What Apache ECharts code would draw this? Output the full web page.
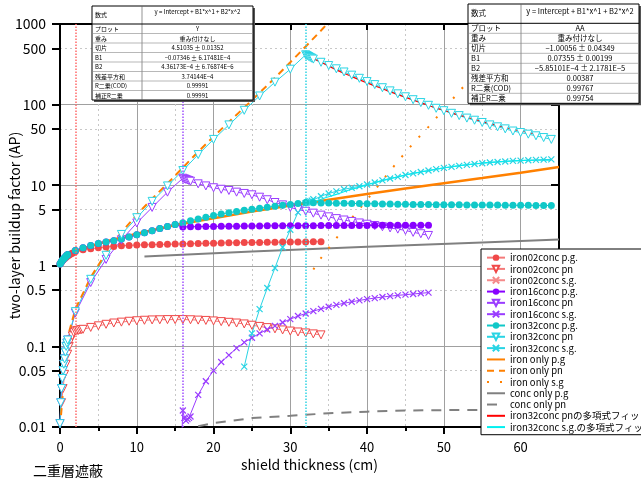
<!DOCTYPE html>
<html><head><meta charset="utf-8">
<script src="https://cdn.jsdelivr.net/npm/echarts@6/dist/echarts.min.js"></script>
<style>html,body{margin:0;padding:0;background:#fff}#c{width:641px;height:478px}</style>
</head><body><div id="c"></div>
<script>
// ---------- axis ticks ----------
const yTickValues = [0.01, 0.05, 0.1, 0.5, 1, 5, 10, 50, 100, 500, 1000];
const xTickValues = [0, 10, 20, 30, 40, 50, 60];
const xLabelValues = [0, 10, 20, 30, 40, 50, 60];
const interfaceX = [2, 16, 32];

// ---------- iron 2cm + concrete ----------
const iron02_pg_x = [0,0.2,0.4,0.6,0.8,1,1.2,1.4,1.6,1.8,2,3,4,5,6,7,8,9,10,11,12,13,14,15,16,17,18,19,20,21,22,23,24,25,26,27,28,29,30,31,32,33,34];
const iron02_pg_y = [1.05,1.12,1.18,1.23,1.28,1.32,1.36,1.4,1.43,1.46,1.5,1.58,1.63,1.67,1.71,1.74,1.77,1.79,1.81,1.82,1.83,1.84,1.85,1.86,1.87,1.88,1.89,1.9,1.91,1.92,1.93,1.93,1.94,1.95,1.95,1.96,1.96,1.97,1.97,1.98,1.98,1.99,1.99];
const iron02_pn_x = [0,0.2,0.4,0.6,0.8,1,1.2,1.4,1.6,1.8,2,2.2,2.4,2.6,2.8,3,4,5,6,7,8,9,10,11,12,13,14,15,16,17,18,19,20,21,22,23,24,25,26,27,28,29,30,31,32,33,34];
const iron02_pn_y = [0.011,0.02,0.03,0.045,0.06,0.08,0.1,0.12,0.135,0.148,0.155,0.157,0.158,0.16,0.162,0.163,0.172,0.18,0.188,0.195,0.2,0.205,0.208,0.211,0.213,0.214,0.215,0.215,0.215,0.214,0.212,0.21,0.207,0.203,0.199,0.195,0.19,0.183,0.177,0.171,0.165,0.16,0.155,0.151,0.147,0.143,0.139];
const iron02_sg_x = [];
const iron02_sg_y = [];

// ---------- iron 16cm + concrete ----------
const iron16_pg_x = [0,0.1,0.2,0.3,0.4,0.5,0.6,0.7,0.8,0.9,1,2,3,4,5,6,7,8,9,10,11,12,13,14,15,16,17,18,19,20,21,22,23,24,25,26,27,28,29,30,31,32,33,34,35,36,37,38,39,40,41,42,43,44,45,46,47,48];
const iron16_pg_y = [1.05,1.09,1.13,1.17,1.2,1.23,1.26,1.29,1.32,1.35,1.38,1.55,1.68,1.79,1.89,1.97,2.05,2.15,2.28,2.42,2.57,2.73,2.9,3.07,3.25,3.03,3.05,3.06,3.07,3.08,3.09,3.1,3.1,3.11,3.12,3.12,3.13,3.13,3.14,3.14,3.15,3.15,3.15,3.16,3.16,3.16,3.17,3.17,3.17,3.17,3.18,3.18,3.18,3.18,3.18,3.19,3.19,3.19];
const iron16_pn_x = [0,0.1,0.2,0.3,0.4,0.5,0.6,0.7,0.8,0.9,1,2,4,6,8,10,12,14,16,16.2,16.4,16.6,16.8,17,18,19,20,21,22,23,24,25,26,27,28,29,30,31,32,33,34,35,36,37,38,39,40,41,42,43,44,45,46,47,48];
const iron16_pn_y = [0.011,0.02,0.03,0.04,0.05,0.06,0.07,0.085,0.1,0.11,0.12,0.26,0.62,1.2,2.1,3.4,5.3,8.2,12.2,12.0,11.8,11.6,11.4,11.2,10.4,9.8,9.3,8.9,8.6,8.2,7.9,7.6,7.1,6.6,6.1,5.7,5.3,5.0,4.75,4.5,4.25,4.05,3.85,3.7,3.55,3.4,3.28,3.16,3.05,2.95,2.85,2.75,2.6,2.5,2.38];
const iron16_sg_x = [15.5,16,16.2,16.4,16.6,16.8,17,18,19,20,21,22,23,24,25,26,27,28,29,30,31,32,33,34,35,36,37,38,39,40,41,42,43,44,45,46,47,48];
const iron16_sg_y = [0.001,0.016,0.013,0.012,0.0125,0.013,0.0135,0.025,0.037,0.05,0.064,0.078,0.095,0.112,0.128,0.145,0.162,0.18,0.198,0.218,0.238,0.256,0.274,0.292,0.31,0.327,0.343,0.358,0.372,0.386,0.398,0.41,0.42,0.43,0.438,0.447,0.456,0.465];

// ---------- iron 32cm + concrete ----------
const iron32_pg_x = [0,0.1,0.2,0.3,0.4,0.5,0.6,0.7,0.8,0.9,1,2,3,4,5,6,7,8,9,10,11,12,13,14,15,16,17,18,19,20,21,22,23,24,25,26,27,28,29,30,31,32,33,34,35,36,37,38,39,40,41,42,43,44,45,46,47,48,49,50,51,52,53,54,55,56,57,58,59,60,61,62,63,64];
const iron32_pg_y = [1.05,1.09,1.13,1.17,1.2,1.23,1.26,1.29,1.32,1.35,1.38,1.55,1.68,1.79,1.89,1.97,2.05,2.15,2.28,2.42,2.57,2.73,2.9,3.07,3.25,3.43,3.62,3.82,4.0,4.2,4.38,4.56,4.72,4.88,5.03,5.18,5.33,5.48,5.63,5.78,5.93,6.1,6.06,6.03,6.0,5.98,5.96,5.94,5.92,5.9,5.88,5.86,5.84,5.82,5.8,5.78,5.76,5.75,5.74,5.73,5.72,5.71,5.7,5.69,5.68,5.67,5.66,5.65,5.64,5.63,5.62,5.61,5.6,5.6];
const iron32_pn_x = [0,0.1,0.2,0.3,0.4,0.5,0.6,0.7,0.8,0.9,1,2,4,6,8,10,12,14,16,18,20,22,24,26,28,30,32,32.2,32.4,32.6,32.8,33,34,35,36,37,38,39,40,41,42,43,44,45,46,47,48,49,50,51,52,53,54,55,56,57,58,59,60,61,62,63,64];
const iron32_pn_y = [0.011,0.02,0.03,0.04,0.05,0.06,0.07,0.085,0.1,0.11,0.12,0.27,0.68,1.35,2.45,3.95,6.3,9.8,15.2,24,37,56,85,128,190,275,415,405,395,385,376,367,335,305,278,254,232,212,193,177,162,148,136,125,115,106,98,90,84,78,73,68,64,60,56,53,50,47,45,43,41,39,37];
const iron32_sg_x = [24,25,26,27,28,29,30,31,32,32.2,32.4,32.6,32.8,33,34,35,36,37,38,39,40,41,42,43,44,45,46,47,48,49,50,51,52,53,54,55,56,57,58,59,60,61,62,63,64];
const iron32_sg_y = [0.056,0.145,0.29,0.53,0.94,1.7,2.8,4.6,6.0,6.1,6.2,6.3,6.45,6.7,7.3,7.9,8.4,8.9,9.3,9.7,10.2,10.8,11.5,12.1,12.7,13.4,14.0,14.6,15.2,15.8,16.4,16.9,17.4,17.9,18.3,18.7,19.1,19.4,19.7,20.0,20.2,20.4,20.6,20.8,20.9];

// ---------- iron only / concrete only ----------
const ironOnly_pg_x = [0,1,2,4,6,8,10,15,20,25,30,35,40,45,50,55,60,65];
const ironOnly_pg_y = [1.0,1.3,1.5,1.75,2.0,2.25,2.5,3.2,3.9,4.7,5.6,6.6,7.8,9.1,10.6,12.3,14.3,16.8];
const ironOnly_pn_x = [0,1,2,4,6,8,10,12,14,16,18,20,22,24,26,28,30,32,34,35];
const ironOnly_pn_y = [0.01,0.13,0.29,0.72,1.45,2.6,4.3,6.8,10.5,16.5,26,40,61,92,140,215,335,525,830,1050];
const ironOnly_sg_x = [33,34,36,38,40,42,44,46,48,50,52,54,56,58,60];
const ironOnly_sg_y = [0.9,1.25,2.2,3.9,6.6,11.5,19.7,33,53,88,145,240,400,660,1090];
const concOnly_pg_x = [11,25,40,55,65];
const concOnly_pg_y = [1.3,1.5,1.72,1.95,2.12];
const concOnly_pn_x = [18,20,25,30,35,40,45,50,55,65];
const concOnly_pn_y = [0.0102,0.0112,0.0129,0.0138,0.0148,0.0155,0.016,0.0162,0.0163,0.0163];

// ---------- polynomial fits ----------
const fitPn_x = [32,34,36,38,40,42,44,46,48,50,52,54,56,58,60,62];
const fitPn_y = [415,335,270,223,186,157,133,114,97.5,85,74,65.5,58,52,47,43];
const fitSg_x = [32,34,36,38,40,42,44,46,48,50,52,54,56,58,60,62,64];
const fitSg_y = [5.7,6.7,7.7,8.9,10.1,11.4,12.7,14,15.2,16.4,17.5,18.4,19.2,19.8,20.2,20.4,20.4];

// ---------- tables ----------
const tableRowLabels = ['数式','プロット','重み','切片','B1','B2','残差平方和','R二乗(COD)','補正R二乗'];
const tableYValues = ['y = Intercept + B1*x^1 + B2*x^2','Y','重み付けなし','4.51035 ± 0.01352','−0.07346 ± 6.17481E−4','4.36173E−4 ± 6.76874E−6','3.74144E−4','0.99991','0.99991'];
const tableAAValues = ['y = Intercept + B1*x^1 + B2*x^2','AA','重み付けなし','−1.00056 ± 0.04349','0.07355 ± 0.00199','−5.85101E−4 ± 2.1781E−5','0.00387','0.99767','0.99754'];

const legendNames = ['iron02conc p.g.','iron02conc pn','iron02conc s.g.','iron16conc p.g.','iron16conc pn','iron16conc s.g.','iron32conc p.g.','iron32conc pn','iron32conc s.g.','iron only p.g','iron only pn','iron only s.g','conc only p.g','conc only pn','iron32conc pnの多項式フィット','iron32conc s.g.の多項式フィット'];
const lineOnlyNames = ['iron only p.g','iron only pn','iron only s.g','conc only p.g','conc only pn','iron32conc pnの多項式フィット','iron32conc s.g.の多項式フィット'];

const FONT = '"Noto Sans CJK JP", "Noto Sans", sans-serif';
const CROSS = 'path://M0,0L10,10M10,0L0,10';
const C = {red:'#f04848', redL:'#f47a7a', pur:'#8800ff', purL:'#9a3cff', cya:'#10c8c8', cyaL:'#28d4e4', org:'#ff8000', gry:'#808080'};

function pairs(xs, ys){ return xs.map((x,i)=>[x, ys[i]]); }
function mk(name, xs, ys, o){
  return Object.assign({name, type:'line', data:pairs(xs,ys), clip:true, silent:true,
    emphasis:{disabled:true}, animation:false, symbolSize:7}, o);
}
function vline(x, color){
  return {silent:true, symbol:'none', label:{show:false}, emphasis:{disabled:true},
    lineStyle:{color, type:'dotted', width:1.5}, data:[{xAxis:x}]};
}
const dot = (c)=>({symbol:'circle', symbolSize:7, itemStyle:{color:c}, lineStyle:{color:c, width:1}});
const tri = (c, lc)=>({symbol:'triangle', symbolRotate:180, symbolSize:8, itemStyle:{color:'#fff', borderColor:c, borderWidth:1}, lineStyle:{color:lc, width:1}});
const crs = (c)=>({symbol:CROSS, symbolSize:6, itemStyle:{color:'none', borderColor:c, borderWidth:1.2}, lineStyle:{color:c, width:1}});

const series = [
  mk('conc only p.g', concOnly_pg_x, concOnly_pg_y, {symbol:'none', itemStyle:{color:C.gry}, lineStyle:{color:C.gry, width:2}}),
  mk('conc only pn', concOnly_pn_x, concOnly_pn_y, {symbol:'none', itemStyle:{color:C.gry}, lineStyle:{color:C.gry, width:2, type:[10,8]}}),
  mk('iron02conc pn', iron02_pn_x, iron02_pn_y, tri(C.red, C.redL)),
  mk('iron02conc p.g.', iron02_pg_x, iron02_pg_y, Object.assign(dot(C.red), {lineStyle:{color:C.redL,width:1}, markLine: vline(interfaceX[0], '#ff6a6a')})),
  mk('iron02conc s.g.', iron02_sg_x, iron02_sg_y, crs('#f58a8a')),
  mk('iron16conc pn', iron16_pn_x, iron16_pn_y, tri(C.purL, C.purL)),
  mk('iron16conc s.g.', iron16_sg_x, iron16_sg_y, crs(C.purL)),
  mk('iron16conc p.g.', iron16_pg_x, iron16_pg_y, Object.assign(dot(C.pur), {markLine: vline(interfaceX[1], '#a050ff')})),
  mk('iron32conc s.g.', iron32_sg_x, iron32_sg_y, crs(C.cyaL)),
  mk('iron32conc p.g.', iron32_pg_x, iron32_pg_y, Object.assign(dot(C.cya), {markLine: vline(interfaceX[2], '#30d4e4')})),
  mk('iron32conc pn', iron32_pn_x, iron32_pn_y, tri(C.cyaL, C.cyaL)),
  mk('iron only p.g', ironOnly_pg_x, ironOnly_pg_y, {symbol:'none', itemStyle:{color:C.org}, lineStyle:{color:C.org, width:2.5}}),
  mk('iron only pn', ironOnly_pn_x, ironOnly_pn_y, {symbol:'none', itemStyle:{color:C.org}, lineStyle:{color:C.org, width:2, type:[7,5]}}),
  mk('iron only s.g', ironOnly_sg_x, ironOnly_sg_y, {symbol:'none', itemStyle:{color:C.org}, lineStyle:{color:C.org, width:2, type:[2,11]}}),
  mk('iron32conc pnの多項式フィット', fitPn_x, fitPn_y, {symbol:'none', smooth:true, itemStyle:{color:'#ff0000'}, lineStyle:{color:'#ff0000', width:1.2}}),
  mk('iron32conc s.g.の多項式フィット', fitSg_x, fitSg_y, {symbol:'none', smooth:true, itemStyle:{color:'#00f0f0'}, lineStyle:{color:'#00f0f0', width:1.2}})
];

function tableGraphic(b, labels, values){
  const h = b.headH + b.rowH*(labels.length-1);
  const els = [];
  els.push({type:'rect', silent:true, z:100, shape:{x:b.x+2, y:b.y+2, width:b.w, height:h}, style:{fill:'#555'}});
  els.push({type:'rect', silent:true, z:101, shape:{x:b.x, y:b.y, width:b.w, height:h}, style:{fill:'#fff', stroke:'#000', lineWidth:1}});
  els.push({type:'line', silent:true, z:102, shape:{x1:b.split, y1:b.y, x2:b.split, y2:b.y+h}, style:{stroke:'#666', lineWidth:0.7}});
  const cx = (b.split + b.x + b.w)/2;
  for (let i=0;i<labels.length;i++){
    const top = i===0 ? b.y : b.y + b.headH + b.rowH*(i-1);
    const ht = i===0 ? b.headH : b.rowH;
    if (i>0) els.push({type:'line', silent:true, z:102, shape:{x1:b.x, y1:top, x2:b.x+b.w, y2:top}, style:{stroke: i===1?'#000':'#888', lineWidth: i===1?1:0.6}});
    els.push({type:'text', silent:true, z:103, style:{text:labels[i], x:b.x+3, y:top+ht/2, fontSize:b.fs, fontFamily:FONT, fill:'#000', align:'left', verticalAlign:'middle'}});
    els.push({type:'text', silent:true, z:103, style:{text:values[i], x:cx, y: i===0 ? top + b.fs*0.9 : top+ht/2, fontSize:b.fs, fontFamily:FONT, fill:'#000', align:'center', verticalAlign:'middle'}});
  }
  return els;
}

const graphics = [].concat(
  tableGraphic({x:92, y:6, w:161, split:142, headH:18, rowH:9.5, fs:6}, tableRowLabels, tableYValues),
  tableGraphic({x:468, y:4, w:171, split:521, headH:19.3, rowH:10, fs:7.5}, tableRowLabels, tableAAValues)
);

const fmt = v => String(+(+v).toPrecision(6));
const legendData = legendNames.map(n => lineOnlyNames.indexOf(n) >= 0 ? {name:n, itemStyle:{opacity:0}} : {name:n});

const option = {
  backgroundColor:'#fff',
  animation:false,
  textStyle:{fontFamily:FONT},
  title:{text:'二重層遮蔽', left:33, top:464, padding:0, textStyle:{fontSize:14, fontWeight:'normal', color:'#000', fontFamily:FONT}},
  grid:{left:60, right:82, top:24, bottom:51, containLabel:false, outerBoundsMode:'none'},
  legend:{orient:'vertical', left:481, top:249, padding:[3,4,2,5], itemWidth:18, itemHeight:8, itemGap:0,
    textStyle:{fontSize:9.5, lineHeight:11.27, color:'#000', fontFamily:FONT},
    backgroundColor:'#fff', borderColor:'#000', borderWidth:1, borderRadius:0, selectedMode:false, data:legendData, z:20},
  xAxis:[
    {type:'value', min:0, max:65, position:'bottom',
      name:'shield thickness (cm)', nameLocation:'middle', nameGap:31, nameMoveOverlap:false,
      nameTextStyle:{fontSize:14, color:'#000', fontFamily:FONT},
      axisLine:{onZero:false, lineStyle:{color:'#000', width:2}},
      axisTick:{inside:false, length:7, lineStyle:{color:'#000', width:2}, customValues:xTickValues},
      minorTick:{show:true, splitNumber:2, length:4, lineStyle:{color:'#000', width:2}},
      axisLabel:{customValues:xLabelValues, fontSize:13, color:'#000', margin:14, fontFamily:FONT, formatter:fmt},
      splitLine:{show:false},
      minorSplitLine:{show:true, lineStyle:{color:'#c8c8c8', type:[2,3], width:1}}},
    {type:'value', min:0, max:65, interval:10, position:'top',
      axisLine:{onZero:false, lineStyle:{color:'#000', width:2}},
      axisTick:{inside:true, length:6, lineStyle:{color:'#000', width:2}},
      axisLabel:{show:false},
      splitLine:{show:true, lineStyle:{color:'#a0a0a0', width:1}}}
  ],
  yAxis:[
    {type:'log', logBase:10, min:0.01, max:1000, position:'left',
      name:'two-layer buildup factor (AP)', nameLocation:'middle', nameGap:38, nameMoveOverlap:false,
      nameTextStyle:{fontSize:14, color:'#000', fontFamily:FONT},
      axisLine:{show:true, onZero:false, lineStyle:{color:'#000', width:2}},
      axisTick:{show:true, inside:false, length:8, lineStyle:{color:'#000', width:2}, customValues:yTickValues},
      axisLabel:{customValues:yTickValues, fontSize:14, color:'#000', margin:14, fontFamily:FONT, formatter:fmt},
      splitLine:{show:true, lineStyle:{color:'#c8c8c8', type:[2,3], width:1}}},
    {type:'log', logBase:10, min:0.01, max:1000, position:'right',
      axisLine:{show:true, onZero:false, lineStyle:{color:'#000', width:2}},
      axisTick:{show:true, inside:true, length:8, lineStyle:{color:'#000', width:2}},
      axisLabel:{show:false},
      splitLine:{show:true, lineStyle:{color:'#a0a0a0', width:1}}}
  ],
  series,
  graphic:{elements:graphics}
};

const chart = echarts.init(document.getElementById('c'), null, {renderer:'canvas'});
chart.setOption(option);
</script></body></html>
